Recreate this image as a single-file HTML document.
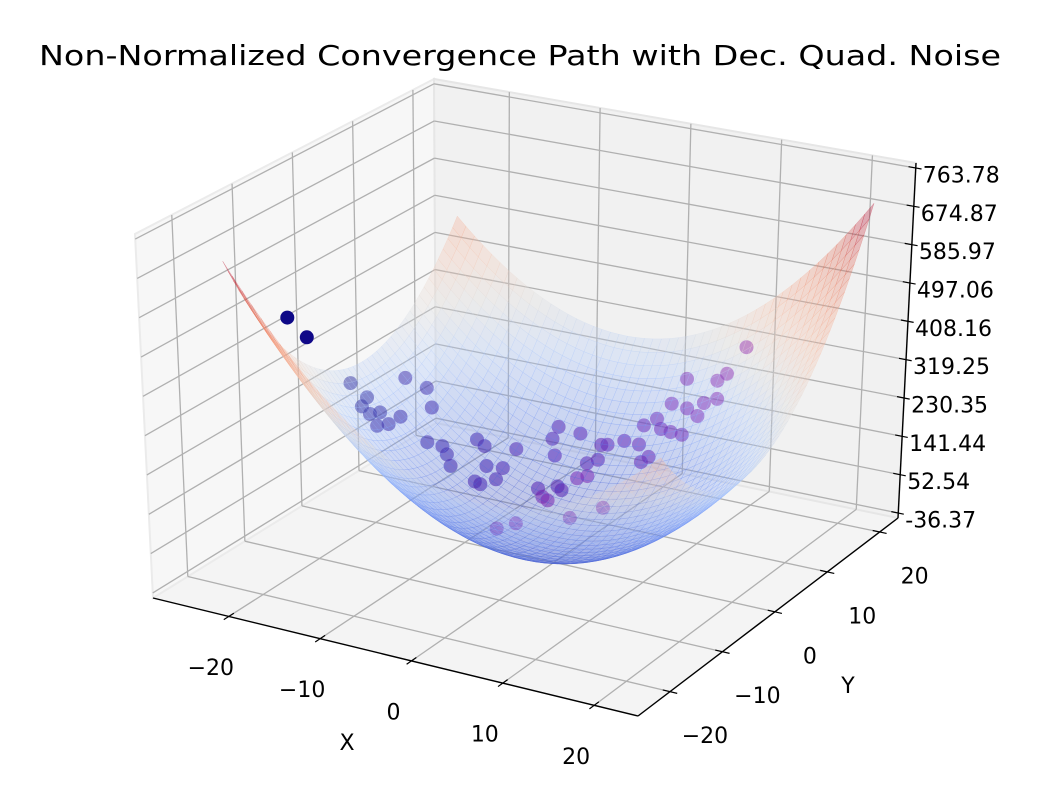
<!DOCTYPE html>
<html><head><meta charset="utf-8"><title>Convergence Path</title>
<style>
html,body{margin:0;padding:0;background:#fff;}
svg{display:block;font-family:"DejaVu Sans","Liberation Sans",sans-serif;}
</style></head>
<body>
<svg id="chart" width="1038" height="786" viewBox="0 0 1038 786" xmlns="http://www.w3.org/2000/svg">
  <rect x="0" y="0" width="1038" height="786" fill="#ffffff"/>
  <text x="520" y="65" font-size="28" text-anchor="middle" fill="#000" textLength="962" lengthAdjust="spacingAndGlyphs">Non-Normalized Convergence Path with Dec. Quad. Noise</text>
  <g id="panes"></g>
  <g id="grid"></g>
  <g id="axes"></g>
  <g id="scatter"></g>
  <g id="surface"></g>
  <text x="347" y="750" font-size="22" text-anchor="middle" fill="#000">X</text>
  <text x="848" y="693" font-size="22" text-anchor="middle" fill="#000">Y</text>
</svg>
<script>
// ---- data ----
const xLim = [-28.3, 24.8];
const yLim = [-26.1, 23.5];
const zLim = [-47.9, 775.3];
const xTicks = [-20, -10, 0, 10, 20];
const xTickLabels = ['\u221220', '\u221210', '0', '10', '20'];
const yTicks = [-20, -10, 0, 10, 20];
const yTickLabels = ['\u221220', '\u221210', '0', '10', '20'];
const zTicks = [-36.37, 52.54, 141.44, 230.35, 319.25, 408.16, 497.06, 585.97, 674.87, 763.78];
const zTickLabels = ['-36.37', '52.54', '141.44', '230.35', '319.25', '408.16', '497.06', '585.97', '674.87', '763.78'];
const surfX = [-22.5, 23.2];
const surfY = [-21.1, 18.5];
const surfCoef = [5, 302, 302, 106, 7];
const pathX = [-25.7,-23.0,-21.6,-19.3,-19.5,-18.3,-17.7,-17.1,-16.4,-16.4,-16.9,-14.8,-13.7,-14.6,-13.3,-12.8,-11.9,-10.4,-9.8,-8.9,-10.2,-9.4,-8.7,-8.2,-7.7,-4.6,-4.3,-4.5,-2.9,-5.3,-3.9,-3.1,-1.7,-0.3,0.3,0.8,2.6,4.3,4.5,5.4,4.5,5.7,6.4,7.6,8.9,6.8,8.0,8.7,10.1,10.3,11.8,11.3,12.1,13.5,-2.4,-1.8,-4.8,-3.9,-5.9,-7.3,0.0,-2.0];
const pathY = [-5.6,-6.6,-1.5,-2.3,-2.9,-3.4,-2.6,-4.1,-3.2,-1.1,0.6,1.0,0.1,0.7,1.3,1.3,0.5,2.8,3.2,2.1,2.1,1.8,3.5,3.9,5.5,7.0,7.6,7.3,9.3,5.6,6.9,6.3,8.6,8.3,7.9,8.2,8.3,8.2,8.3,8.2,8.7,9.1,8.7,8.5,8.4,9.9,10.6,9.6,9.2,10.0,9.9,10.7,11.1,12.2,8.0,8.9,5.6,5.1,2.6,1.4,8.9,6.1];
const pathZ = [446,421,281,265,248,240,240,224,224,224,298,281,248,158,150,133,117,166,150,117,75,75,75,100,133,158,182,117,158,51,51,51,100,117,158,158,174,174,133,150,215,232,215,215,215,265,322,265,257,281,298,331,347,405,67,67,34,34,-7,-15,1,-7];

// ---- projection (box corners on screen) ----
const K = {
  c000:[153,598], c100:[638,716], c010:[436,423], c110:[898,518],
  c001:[135,234], c101:[656,361], c011:[434,79], c111:[916,163]
};
function lerp(a,b,t){return [a[0]+(b[0]-a[0])*t, a[1]+(b[1]-a[1])*t];}
function tri(u,v,w){
  const a=lerp(K.c000,K.c100,u), b=lerp(K.c010,K.c110,u);
  const c=lerp(K.c001,K.c101,u), d=lerp(K.c011,K.c111,u);
  return lerp(lerp(a,b,v), lerp(c,d,v), w);
}
function fu(x){return (x-xLim[0])/(xLim[1]-xLim[0]);}
function fv(y){return (y-yLim[0])/(yLim[1]-yLim[0]);}
function fw(z){return (z-zLim[0])/(zLim[1]-zLim[0]);}
function P(x,y,z){return tri(fu(x),fv(y),fw(z));}

const NS='http://www.w3.org/2000/svg';
function mk(tag, attrs, parent){
  const e=document.createElementNS(NS,tag);
  for(const k in attrs) e.setAttribute(k, attrs[k]);
  parent.appendChild(e);
  return e;
}
function pts(arr){return arr.map(p=>p[0].toFixed(1)+','+p[1].toFixed(1)).join(' ');}

// ---- panes ----
const gP=document.getElementById('panes');
const bottomPane = mk('polygon',{points:pts([tri(0,0,0),tri(1,0,0),tri(1,1,0),tri(0,1,0)]),fill:'#f4f4f4',stroke:'#ebebeb','stroke-width':1.5},gP);


const leftPane = mk('polygon',{points:pts([tri(0,0,0),tri(0,1,0),tri(0,1,1),tri(0,0,1)]),fill:'#f7f7f7',stroke:'#ebebeb','stroke-width':2},gP);


const backPane = mk('polygon',{points:pts([tri(0,1,0),tri(1,1,0),tri(1,1,1),tri(0,1,1)]),fill:'#f1f1f1',stroke:'#e6e6e6','stroke-width':2},gP);



// ---- grid ----
const gG=document.getElementById('grid');
function gline(p,q,name){
  const l=mk('line',{x1:p[0],y1:p[1],x2:q[0],y2:q[1],stroke:'#b0b0b0','stroke-width':1.3},gG);
  
  
}
xTicks.forEach(x=>{
  gline(P(x,yLim[0],zLim[0]),P(x,yLim[1],zLim[0]),'grid-x-floor');
  gline(P(x,yLim[1],zLim[0]),P(x,yLim[1],zLim[1]),'grid-x-back');
});
yTicks.forEach(y=>{
  gline(P(xLim[0],y,zLim[0]),P(xLim[1],y,zLim[0]),'grid-y-floor');
  gline(P(xLim[0],y,zLim[0]),P(xLim[0],y,zLim[1]),'grid-y-left');
});
zTicks.forEach(z=>{
  gline(P(xLim[0],yLim[0],z),P(xLim[0],yLim[1],z),'grid-z-left');
  gline(P(xLim[0],yLim[1],z),P(xLim[1],yLim[1],z),'grid-z-back');
});

// ---- axes ----
const gA=document.getElementById('axes');
function aline(p,q,name,w){
  const l=mk('line',{x1:p[0],y1:p[1],x2:q[0],y2:q[1],stroke:'#000','stroke-width':w},gA);
  
  
}
aline(tri(0,0,0),tri(1,0,0),'x-axis-line',1.4);
aline(tri(1,0,0),tri(1,1,0),'y-axis-line',1.4);
aline(tri(1,1,0),tri(1,1,1),'z-axis-line',1.4);
function label(txt,x,y,anchor,name){
  const t=mk('text',{x:x,y:y,'font-size':22,'text-anchor':anchor,'dominant-baseline':'central',fill:'#000'},gA);
  t.textContent=txt;
  
  
}
xTicks.forEach((x,i)=>{
  const u=fu(x);
  aline(tri(u,-0.018,0),tri(u,0.018,0),'x-tick',1.2);
  const p=tri(u,0,0);
  label(xTickLabels[i],p[0]-18,p[1]+52,'middle','x-tick-label');
});
yTicks.forEach((y,i)=>{
  const v=fv(y);
  aline(tri(0.985,v,0),tri(1.015,v,0),'y-tick',1.2);
  const p=tri(1,v,0);
  label(yTickLabels[i],p[0]+35,p[1]+45,'middle','y-tick-label');
});
zTicks.forEach((z,i)=>{
  const w=fw(z);
  aline(tri(0.985,1,w),tri(1.012,1,w),'z-tick',1.2);
  const p=tri(1,1,w);
  label(zTickLabels[i],p[0]+7,p[1]+8,'start','z-tick-label');
});

// ---- scatter ----
const plasma=[[13,8,135],[84,2,163],[139,10,165],[185,50,137],[219,92,104]];
function cmapP(t){
  const s=t*(plasma.length-1), i=Math.min(plasma.length-2,Math.floor(s)), f=s-i;
  const a=plasma[i], b=plasma[i+1];
  return 'rgb('+[0,1,2].map(k=>Math.round(a[k]+(b[k]-a[k])*f)).join(',')+')';
}
const gS=document.getElementById('scatter');
pathX.forEach((x,i)=>{
  const p=P(x,pathY[i],pathZ[i]);
  const t=i/(pathX.length-1)*0.55;
  const c=mk('circle',{cx:p[0].toFixed(1),cy:p[1].toFixed(1),r:7,fill:cmapP(t),'fill-opacity':i<2?1:0.55},gS);
  
  
});

// ---- surface ----
const cw=[[0,59,76,192],[0.125,88,118,227],[0.25,124,159,249],[0.375,170,199,253],[0.5,221,221,221],[0.625,245,196,173],[0.75,244,154,123],[0.875,222,96,76],[1,180,4,38]];
function cmapC(t){
  t=Math.max(0,Math.min(1,t));
  for(let i=0;i<cw.length-1;i++){
    if(t<=cw[i+1][0]){
      const f=(t-cw[i][0])/(cw[i+1][0]-cw[i][0]);
      return 'rgb('+[1,2,3].map(k=>Math.round(cw[i][k]+(cw[i+1][k]-cw[i][k])*f)).join(',')+')';
    }
  }
  return 'rgb(180,4,38)';
}
const xc=(surfX[0]+surfX[1])/2, hx=(surfX[1]-surfX[0])/2;
const yc=(surfY[0]+surfY[1])/2, hy=(surfY[1]-surfY[0])/2;
function fz(x,y){
  const s=(x-xc)/hx, t=(y-yc)/hy;
  return surfCoef[0]+surfCoef[1]*s*s+surfCoef[2]*t*t+surfCoef[3]*s*t+surfCoef[4]*t;
}
const N=48;
const quads=[];
let zmn=1e9,zmx=-1e9;
for(let i=0;i<N;i++){
  for(let j=0;j<N;j++){
    const xs=[surfX[0]+(surfX[1]-surfX[0])*i/N, surfX[0]+(surfX[1]-surfX[0])*(i+1)/N];
    const ys=[surfY[0]+(surfY[1]-surfY[0])*j/N, surfY[0]+(surfY[1]-surfY[0])*(j+1)/N];
    const cs=[[xs[0],ys[0]],[xs[1],ys[0]],[xs[1],ys[1]],[xs[0],ys[1]]].map(q=>[q[0],q[1],fz(q[0],q[1])]);
    const za=(cs[0][2]+cs[1][2]+cs[2][2]+cs[3][2])/4;
    zmn=Math.min(zmn,za); zmx=Math.max(zmx,za);
    const um=fu((xs[0]+xs[1])/2), vm=fv((ys[0]+ys[1])/2), wm=fw(za);
    quads.push({cs:cs, za:za, depth:0.433*um-0.75*vm+0.5*wm});
  }
}
quads.sort((a,b)=>a.depth-b.depth);
const gF=document.getElementById('surface');
quads.forEach(q=>{
  const col=cmapC((q.za-zmn)/(zmx-zmn));
  const poly=mk('polygon',{points:pts(q.cs.map(c=>P(c[0],c[1],c[2]))),fill:col,'fill-opacity':0.3,stroke:col,'stroke-opacity':0.32,'stroke-width':0.5},gF);
  
  
});
</script>
</body></html>
